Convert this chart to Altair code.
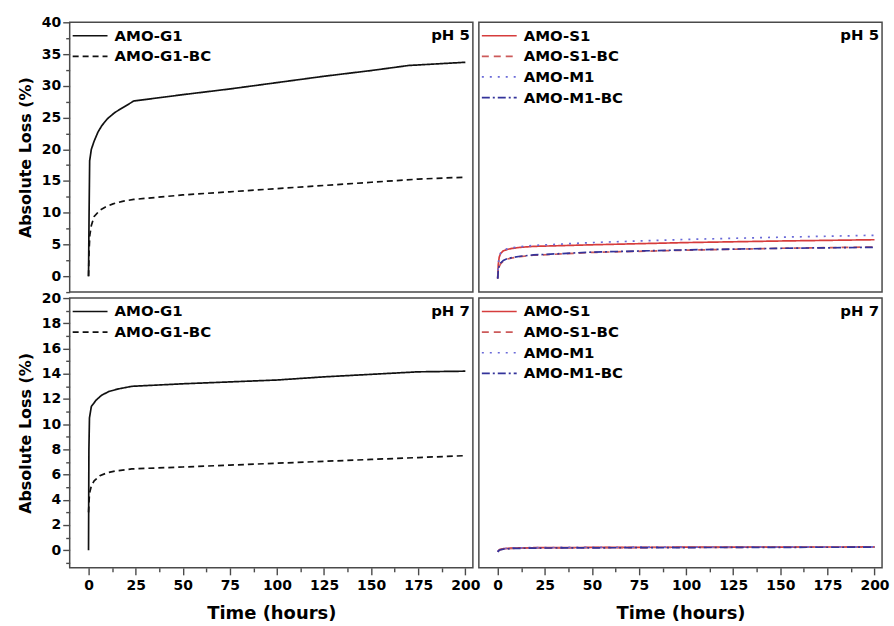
import altair as alt
import pandas as pd

FONT = "DejaVu Sans"
BORDER = "#4a4a4a"

# ---- pH 5, AMO-G1 family ----
g1_ph5_t = [0, 0.3, 0.6, 1.5, 3, 5, 7, 10, 14, 19, 24, 50, 75, 100, 125, 150, 170, 200]
g1_ph5_y = [0, 10, 18.2, 20, 21.3, 22.7, 23.7, 24.8, 25.8, 26.7, 27.6, 28.6, 29.5, 30.5, 31.5, 32.4, 33.2, 33.7]
g1bc_ph5_t = [0, 0.3, 0.7, 1.5, 3, 6, 9, 13, 18, 24, 50, 75, 100, 125, 150, 175, 200]
g1bc_ph5_y = [0, 4, 6.5, 8, 9.4, 10.4, 10.9, 11.4, 11.8, 12.1, 12.8, 13.3, 13.8, 14.3, 14.8, 15.3, 15.6]

# ---- pH 7, AMO-G1 family ----
g1_ph7_t = [0, 0.2, 0.5, 1.5, 4, 7, 11, 16, 23, 50, 75, 100, 125, 150, 175, 200]
g1_ph7_y = [0, 8, 10.5, 11.4, 11.9, 12.3, 12.6, 12.8, 13.0, 13.2, 13.35, 13.5, 13.75, 13.95, 14.15, 14.2]
g1bc_ph7_t = [0, 0.5, 1.5, 3, 6, 10, 15, 23, 50, 75, 100, 125, 150, 175, 200]
g1bc_ph7_y = [3.0, 4.5, 5.1, 5.5, 5.9, 6.15, 6.3, 6.45, 6.6, 6.75, 6.9, 7.05, 7.2, 7.35, 7.5]

# ---- pH 5, AMO-S1 / AMO-M1 families ----
sm_ph5_t = [0, 0.3, 0.8, 1.6, 3, 5, 7, 12, 19, 50, 100, 150, 200]
s1_ph5_y = [-0.3, 1.8, 3.0, 3.6, 4.0, 4.2, 4.35, 4.55, 4.7, 4.95, 5.3, 5.55, 5.75]
s1bc_ph5_y = [-0.4, 0.8, 1.5, 2.0, 2.4, 2.7, 2.85, 3.1, 3.3, 3.75, 4.1, 4.4, 4.6]
m1_ph5_y = [-0.3, 1.9, 3.1, 3.7, 4.1, 4.3, 4.45, 4.65, 4.85, 5.3, 5.8, 6.15, 6.45]
m1bc_ph5_y = [-0.4, 0.9, 1.6, 2.1, 2.5, 2.75, 2.9, 3.15, 3.35, 3.8, 4.15, 4.4, 4.55]

# ---- pH 7, AMO-S1 / AMO-M1 families ----
sm_ph7_t = [0, 1, 3, 8, 20, 50, 100, 150, 200]
s1_ph7_y = [-0.1, 0.05, 0.12, 0.17, 0.2, 0.22, 0.24, 0.25, 0.26]
s1bc_ph7_y = [-0.12, 0.03, 0.1, 0.15, 0.18, 0.2, 0.22, 0.24, 0.25]
m1_ph7_y = [-0.1, 0.06, 0.13, 0.18, 0.21, 0.23, 0.25, 0.26, 0.27]
m1bc_ph7_y = [-0.14, 0.02, 0.09, 0.14, 0.17, 0.19, 0.21, 0.23, 0.24]

G_NAMES = ["AMO-G1", "AMO-G1-BC"]
G_COLORS = ["#111111", "#111111"]
G_DASHES = [[1, 0], [6, 4]]

SM_NAMES = ["AMO-S1", "AMO-S1-BC", "AMO-M1", "AMO-M1-BC"]
SM_COLORS = ["#d63c3c", "#cc5a5a", "#6a6ad8", "#33339a"]
SM_DASHES = [[1, 0], [7, 5], [2, 6], [8, 3, 2, 3]]

X_DOMAIN = [-10, 204]
X_TICKS = [v * 12.5 for v in range(17)]


def table(series):
    rows = []
    for name, ts, ys in series:
        for t, y in zip(ts, ys):
            rows.append({"series": name, "t": t, "loss": y})
    return pd.DataFrame(rows)


def panel(df, names, colors, dashes, ph, y_domain, y_ticks, y_major, show_x, show_y):
    legend = alt.Legend(
        title=None, orient="none", legendX=2, legendY=6,
        symbolType="stroke", symbolSize=1225, symbolStrokeWidth=1.7,
        clipHeight=15, rowPadding=4.7, labelOffset=6, padding=0,
        labelFont=FONT, labelFontSize=15, labelFontWeight="bold", labelColor="#000000",
    )
    x_axis = alt.Axis(
        values=X_TICKS, title="Time (hours)", labelFont=FONT, labelFontSize=14,
        labelFontWeight="bold", labelColor="#000000", labelPadding=4,
        labelExpr="datum.value % 25 == 0 ? datum.label : ''", labelOverlap=False,
        tickSize={"condition": {"test": "datum.value % 25 != 0", "value": 4}, "value": 7},
        tickColor=BORDER, tickWidth=1.4, domain=False, grid=False,
        titleFont=FONT, titleFontSize=18, titleFontWeight="bold", titleColor="#000000",
        titlePadding=12,
    ) if show_x else None
    y_axis = alt.Axis(
        values=y_ticks, title="Absolute Loss (%)", labelFont=FONT, labelFontSize=14,
        labelFontWeight="bold", labelColor="#000000", labelPadding=2,
        labelExpr=f"datum.value % {y_major} == 0 ? datum.label : ''", labelOverlap=False,
        tickSize={"condition": {"test": f"datum.value % {y_major} != 0", "value": 4}, "value": 7},
        tickColor=BORDER, tickWidth=1.4, domain=False, grid=False,
        titleFont=FONT, titleFontSize=16, titleFontWeight="bold", titleColor="#000000",
        titlePadding=8,
    ) if show_y else None

    lines = alt.Chart(df).mark_line(strokeWidth=1.7, clip=True).encode(
        x=alt.X("t:Q", scale=alt.Scale(domain=X_DOMAIN, nice=False, zero=False), axis=x_axis),
        y=alt.Y("loss:Q", scale=alt.Scale(domain=y_domain, nice=False, zero=False), axis=y_axis),
        color=alt.Color("series:N", scale=alt.Scale(domain=names, range=colors), legend=legend),
        strokeDash=alt.StrokeDash("series:N", scale=alt.Scale(domain=names, range=dashes), legend=legend),
    )
    tag = alt.Chart(pd.DataFrame({"label": [ph]})).mark_text(
        align="right", baseline="top", font=FONT, fontSize=15, fontWeight="bold", color="#000000",
    ).encode(x=alt.value(402), y=alt.value(6), text="label:N")
    return alt.layer(lines, tag).properties(width=405, height=271)


TOP_Y = [-2.5 + 2.5 * i for i in range(18)]
BOT_Y = [-1 + i for i in range(22)]

top_left = panel(
    table([("AMO-G1", g1_ph5_t, g1_ph5_y), ("AMO-G1-BC", g1bc_ph5_t, g1bc_ph5_y)]),
    G_NAMES, G_COLORS, G_DASHES, "pH 5", [-2.5, 40], TOP_Y, 5, False, True,
)
top_right = panel(
    table([("AMO-S1", sm_ph5_t, s1_ph5_y), ("AMO-S1-BC", sm_ph5_t, s1bc_ph5_y),
           ("AMO-M1", sm_ph5_t, m1_ph5_y), ("AMO-M1-BC", sm_ph5_t, m1bc_ph5_y)]),
    SM_NAMES, SM_COLORS, SM_DASHES, "pH 5", [-2.5, 40], TOP_Y, 5, False, False,
)
bottom_left = panel(
    table([("AMO-G1", g1_ph7_t, g1_ph7_y), ("AMO-G1-BC", g1bc_ph7_t, g1bc_ph7_y)]),
    G_NAMES, G_COLORS, G_DASHES, "pH 7", [-1.4, 20], BOT_Y, 2, True, True,
)
bottom_right = panel(
    table([("AMO-S1", sm_ph7_t, s1_ph7_y), ("AMO-S1-BC", sm_ph7_t, s1bc_ph7_y),
           ("AMO-M1", sm_ph7_t, m1_ph7_y), ("AMO-M1-BC", sm_ph7_t, m1bc_ph7_y)]),
    SM_NAMES, SM_COLORS, SM_DASHES, "pH 7", [-1.4, 20], BOT_Y, 2, True, False,
)

chart = alt.concat(
    top_left, top_right, bottom_left, bottom_right, columns=2, spacing=6, bounds="flush",
).resolve_scale(
    color="independent", strokeDash="independent",
).properties(
    padding={"left": 16, "top": 13, "right": 4, "bottom": 1},
    background="#ffffff",
).configure_view(
    stroke=BORDER, strokeWidth=1.5,
)

chart.save("out.html", embed_options={"renderer": "svg", "actions": False})
